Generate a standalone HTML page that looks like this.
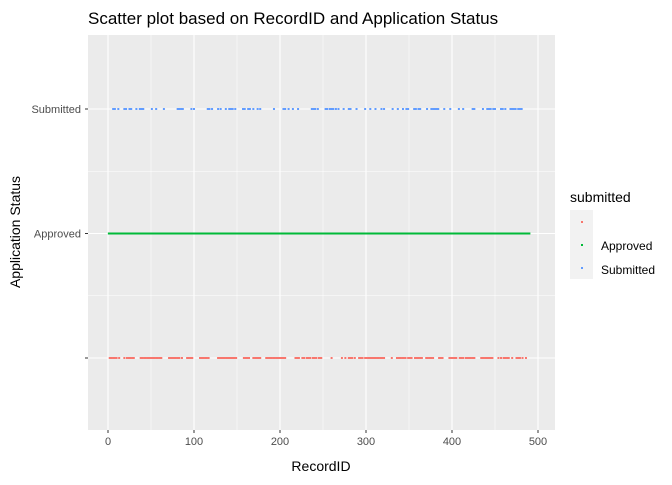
<!DOCTYPE html>
<html><head><meta charset="utf-8"><style>
body{margin:0;background:#fff;font-family:"Liberation Sans",sans-serif}
</style></head><body>
<svg id="c" width="672" height="480" xmlns="http://www.w3.org/2000/svg" font-family="Liberation Sans, sans-serif">
<text x="88" y="24" font-size="17" fill="#000">Scatter plot based on RecordID and Application Status</text>
<rect x="88" y="35" width="467" height="395" fill="#EBEBEB"/>
<g id="grid"></g><g id="marks"></g><g id="axes"></g>
<text x="321" y="471" font-size="14" text-anchor="middle">RecordID</text>
<text transform="translate(20,232) rotate(-90)" font-size="14" text-anchor="middle">Application Status</text>
<g>
<text x="570" y="202" font-size="14">submitted</text>
<rect x="570" y="210" width="23" height="69" fill="#F2F2F2"/>
<rect x="581" y="221" width="2" height="2" fill="#F8766D"/>
<rect x="581" y="244" width="2" height="2" fill="#00BA38"/>
<text x="601" y="250" font-size="12">Approved</text>
<rect x="581" y="267" width="2" height="2" fill="#619CFF"/>
<text x="601" y="274" font-size="12">Submitted</text>
</g>
</svg>
<script>
const xTicks=[0,100,200,300,400,500];
const xMinor=[50,150,250,350,450];
const categories=["","Approved","Submitted"];
const blankIds=[2,4,6,8,10,13,19,22,24,26,28,30,38,40,42,44,46,48,50,52,54,56,58,60,62,71,73,75,77,79,81,83,86,92,94,96,98,107,109,111,113,115,117,128,130,132,134,136,138,139,141,143,145,147,149,158,160,162,164,169,171,173,175,177,184,186,188,190,192,194,196,198,200,202,204,206,218,220,222,226,228,231,233,235,238,240,242,245,246,248,260,272,276,280,282,284,287,292,294,296,299,301,303,305,307,309,311,313,315,317,319,321,330,336,338,340,342,344,346,349,351,353,357,359,361,363,365,370,372,374,376,378,385,387,389,397,399,401,403,405,409,411,413,416,418,420,422,424,426,434,436,437,439,441,443,445,447,454,457,460,462,464,466,470,475,477,479,482,486];
const approvedRange=[1,490];
const submittedIds=[6,8,12,19,21,25,27,33,37,39,41,51,56,65,81,83,85,87,97,100,116,118,121,128,131,137,141,143,145,148,157,159,163,165,169,174,177,193,204,206,210,215,221,237,239,241,244,253,255,258,260,262,265,268,274,280,282,289,299,305,311,318,321,331,337,343,347,349,356,358,361,363,371,376,378,380,382,384,391,398,408,413,424,426,436,441,443,445,448,450,457,459,462,468,470,472,474,477,479,481];
const NS="http://www.w3.org/2000/svg";
const X=v=>108+v*0.86;
const Y=i=>358-i*124.5;
const colors=["#F8766D","#00BA38","#619CFF"];
function mk(t,a,p){const e=document.createElementNS(NS,t);for(const k in a)e.setAttribute(k,a[k]);p.appendChild(e);return e;}
const grid=document.getElementById('grid'),marks=document.getElementById('marks'),axes=document.getElementById('axes');
xMinor.forEach(v=>{const l=mk('line',{x1:X(v),x2:X(v),y1:35,y2:430,stroke:'#fff','stroke-width':0.5},grid);

});
[0.5,1.5].forEach(v=>{const l=mk('line',{x1:88,x2:555,y1:Y(v),y2:Y(v),stroke:'#fff','stroke-width':0.5},grid);

});
xTicks.forEach(v=>{const l=mk('line',{x1:X(v),x2:X(v),y1:35,y2:430,stroke:'#fff','stroke-width':1.1},grid);


const t=mk('line',{x1:X(v),x2:X(v),y1:430,y2:433,stroke:'#333'},axes);


const tx=mk('text',{x:X(v),y:445,'font-size':11,fill:'#4D4D4D','text-anchor':'middle'},axes);tx.textContent=v;

});
categories.forEach((c,i)=>{const l=mk('line',{x1:88,x2:555,y1:Y(i),y2:Y(i),stroke:'#fff','stroke-width':1.1},grid);


const t=mk('line',{x1:85,x2:88,y1:Y(i),y2:Y(i),stroke:'#333'},axes);


const tx=mk('text',{x:81,y:Y(i)+4,'font-size':11,fill:'#4D4D4D','text-anchor':'end'},axes);tx.textContent=c;

});
function pts(ids,ci,name){ids.forEach(v=>{const r=mk('rect',{x:X(v)-1,y:Y(ci)-1,width:2,height:2,fill:colors[ci]},marks);

});}
pts(blankIds,0,'point-blank');
pts(submittedIds,2,'point-submitted');
const ap=mk('line',{x1:X(approvedRange[0])-1,x2:X(approvedRange[1])+1,y1:Y(1),y2:Y(1),stroke:colors[1],'stroke-width':2},marks);


</script>
</body></html>
